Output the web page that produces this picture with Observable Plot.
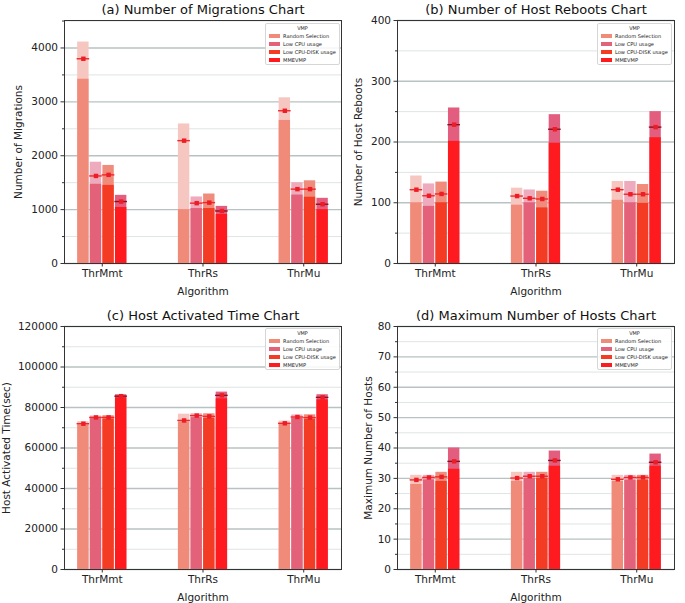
<!DOCTYPE html>
<html><head><meta charset="utf-8">
<script src="https://cdn.jsdelivr.net/npm/d3@7"></script>
<script src="https://cdn.jsdelivr.net/npm/@observablehq/plot@0.6"></script>
<style>
body{margin:0;background:#fff;font-family:"DejaVu Sans",sans-serif;}
#wrap{position:relative;width:685px;height:603px;overflow:hidden;background:#fff;}
.panel{position:absolute;}
.panel svg{display:block;background:transparent;}
.legend{position:absolute;width:75px;height:42px;box-sizing:border-box;border:0.8px solid #d6d6d6;border-radius:2px;background:rgba(255,255,255,0.85);font-family:"DejaVu Sans",sans-serif;color:#222;}
.legend .lt{position:absolute;left:0;right:0;top:1px;text-align:center;font-size:5px;line-height:6px;}
.legend .sw{position:absolute;left:2.5px;width:11px;height:4px;}
.legend .tx{position:absolute;left:17px;font-size:5.1px;line-height:6px;white-space:nowrap;}
</style></head><body><div id="wrap"></div>
<script>
const algorithms = ["ThrMmt", "ThrRs", "ThrMu"];
const vmps = ["Random Selection", "Low CPU usage", "Low CPU-DISK usage", "MMEVMP"];
const solidColors = ["#f08b7a", "#e3627a", "#f43c24", "#ff1a1f"];
const lightColors = ["#f6c6c0", "#edabbd", "#ef8c7c", "#e35d7f"];
const meanLineColors = ["#f0282a", "#f0282a", "#f0282a", "#8e0f1e"];

// (a) Number of migrations: [algorithm][vmp]
const migMax  = [[4110, 1880, 1820, 1265], [2590, 1235, 1290, 1060], [3075, 1500, 1535, 1210]];
const migMin  = [[3420, 1470, 1450, 1040], [1000, 1020, 1020, 910], [2655, 1270, 1230, 1000]];
const migMean = [[3800, 1625, 1645, 1150], [2280, 1120, 1130, 975], [2835, 1380, 1380, 1100]];

// (b) Number of host reboots
const rebMax  = [[144, 131, 134, 256], [124, 121, 119, 245], [135, 135, 130, 250]];
const rebMin  = [[100, 94, 100, 201], [96, 100, 91.5, 198], [104, 100, 99, 207]];
const rebMean = [[121.5, 111.5, 114.5, 228.5], [111, 107.3, 106.2, 221], [121.5, 114, 114, 224.5]];

// (c) Host activated time (sec)
const timeMax  = [[73000, 75800, 75950, 86300], [76700, 76900, 76900, 87600], [73300, 76300, 76400, 86300]];
const timeMin  = [[71400, 74500, 74300, 84800], [72800, 75000, 74600, 84300], [71700, 74600, 74100, 83800]];
const timeMean = [[72000, 75100, 75100, 85600], [73600, 76000, 75600, 86000], [72200, 75300, 75000, 85000]];

// (d) Maximum number of hosts
const hostMax  = [[31, 31, 32, 40], [32, 32, 32, 39], [31, 31, 31, 38]];
const hostMin  = [[28, 29.5, 29, 33], [29, 30, 30, 34], [29, 29.4, 29.4, 34]];
const hostMean = [[29.5, 30.3, 30.5, 35.6], [30.1, 30.7, 30.7, 35.9], [29.7, 30.3, 30.3, 35.3]];

// axis ticks
const migTicks = [0, 1000, 2000, 3000, 4000], migMinor = [500, 1500, 2500, 3500, 4500];
const rebTicks = [0, 100, 200, 300, 400], rebMinor = [50, 150, 250, 350];
const timeTicks = [0, 20000, 40000, 60000, 80000, 100000, 120000], timeMinor = [10000, 30000, 50000, 70000, 90000, 110000];
const hostTicks = [0, 10, 20, 30, 40, 50, 60, 70, 80], hostMinor = [5, 15, 25, 35, 45, 55, 65, 75];

const panels = [
  {title: "(a) Number of Migrations Chart", ylabel: "Number of Migrations", max: migMax, min: migMin, mean: migMean,
   yTop: 4510, ticks: migTicks, minor: migMinor, left: 0, top: 0, width: 342, height: 300, mL: 64, mR: 1, mT: 20, mB: 37, labelDx: -46, legLeft: 265, legTop: 23},
  {title: "(b) Number of Host Reboots Chart", ylabel: "Number of Host Reboots", max: rebMax, min: rebMin, mean: rebMean,
   yTop: 400, ticks: rebTicks, minor: rebMinor, left: 342, top: 0, width: 343, height: 300, mL: 55, mR: 11, mT: 20, mB: 37, labelDx: -39, legLeft: 255, legTop: 23},
  {title: "(c) Host Activated Time Chart", ylabel: "Host Activated Time(sec)", max: timeMax, min: timeMin, mean: timeMean,
   yTop: 120000, ticks: timeTicks, minor: timeMinor, left: 0, top: 300, width: 342, height: 303, mL: 64, mR: 1, mT: 26, mB: 34, labelDx: -58, legLeft: 265, legTop: 28},
  {title: "(d) Maximum Number of Hosts Chart", ylabel: "Maximum Number of Hosts", max: hostMax, min: hostMin, mean: hostMean,
   yTop: 80, ticks: hostTicks, minor: hostMinor, left: 342, top: 300, width: 343, height: 303, mL: 55, mR: 11, mT: 26, mB: 34, labelDx: -29, legLeft: 255, legTop: 28}
];

const barW = 0.125;
const wrap = document.getElementById("wrap");

for (const p of panels) {
  const rows = algorithms.flatMap((a, g) => vmps.map((v, k) => ({
    alg: a, vmp: v, g, k, max: p.max[g][k], min: p.min[g][k], mean: p.mean[g][k],
    x1: g - 0.25 + barW * k, x2: g - 0.25 + barW * (k + 1), xc: g - 0.25 + barW * (k + 0.5)
  })));
  const chart = Plot.plot({
    width: p.width, height: p.height,
    marginLeft: p.mL, marginRight: p.mR, marginTop: p.mT, marginBottom: p.mB,
    style: {fontFamily: "DejaVu Sans, sans-serif", fontSize: "10.5px", color: "#222", background: "transparent"},
    x: {domain: [-0.375, 2.375]},
    y: {domain: [0, p.yTop]},
    marks: [
      Plot.gridY(p.minor, {stroke: "#dfe4e4", strokeOpacity: 1, strokeWidth: 1}),
      Plot.gridY(p.ticks, {stroke: "#b8c2c2", strokeOpacity: 1, strokeWidth: 1.3}),
      Plot.rectY(rows, {x1: "x1", x2: "x2", y1: 0, y2: "max", fill: (d) => lightColors[d.k], insetLeft: 0.6, insetRight: 0.6}),
      Plot.rectY(rows, {x1: "x1", x2: "x2", y1: 0, y2: "min", fill: (d) => solidColors[d.k], insetLeft: 0.6, insetRight: 0.6}),
      Plot.ruleY(rows, {x1: "x1", x2: "x2", y: "mean", stroke: (d) => meanLineColors[d.k], strokeWidth: 1.4}),
      Plot.dot(rows, {x: "xc", y: "mean", symbol: "square", r: 2.5, fill: "#ee1c25", stroke: "none"}),
      Plot.frame({stroke: "#333", strokeWidth: 1}),
      Plot.axisY(p.minor, {tickSize: 2, tickFormat: () => "", label: null, stroke: "#333"}),
      Plot.axisY(p.ticks, {tickSize: 3.5, tickPadding: 3, label: null, tickFormat: (d) => String(d), stroke: "#333", fill: "#222"}),
      Plot.axisX([0, 1, 2], {tickSize: 3.5, tickPadding: 3, label: null, tickFormat: (i) => algorithms[i], stroke: "#333", fill: "#222"}),
      Plot.text([p.title], {frameAnchor: "top", dy: -11, lineAnchor: "middle", fontSize: 13, fill: "#111"}),
      Plot.text([p.ylabel], {frameAnchor: "left", dx: p.labelDx, rotate: -90, lineAnchor: "middle", textAnchor: "middle", fontSize: 10.5, fill: "#222"}),
      Plot.text(["Algorithm"], {frameAnchor: "bottom", dy: 28, lineAnchor: "middle", fontSize: 10.5, fill: "#222"})
    ]
  });
  const div = document.createElement("div");
  div.className = "panel";
  div.style.left = p.left + "px";
  div.style.top = p.top + "px";
  div.style.width = p.width + "px";
  div.style.height = p.height + "px";
  div.appendChild(chart);

  const leg = document.createElement("div");
  leg.className = "legend";
  leg.style.left = p.legLeft + "px";
  leg.style.top = p.legTop + "px";
  const lt = document.createElement("div");
  lt.className = "lt";
  lt.textContent = "VMP";
  leg.appendChild(lt);
  vmps.forEach((v, k) => {
    const sw = document.createElement("div");
    sw.className = "sw";
    sw.style.top = (12 + 8 * k - 2) + "px";
    sw.style.background = solidColors[k];
    leg.appendChild(sw);
    const tx = document.createElement("div");
    tx.className = "tx";
    tx.style.top = (12 + 8 * k - 3) + "px";
    tx.textContent = v;
    leg.appendChild(tx);
  });
  div.appendChild(leg);
  wrap.appendChild(div);
}
</script></body></html>
